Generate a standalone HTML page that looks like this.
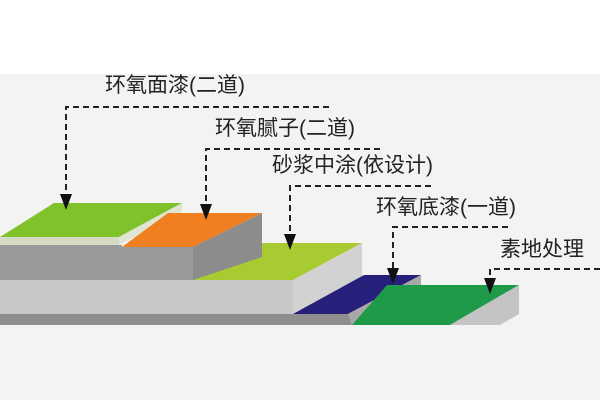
<!DOCTYPE html>
<html><head><meta charset="utf-8"><style>
html,body{margin:0;padding:0;background:#fff;}
svg{display:block;}
text{font-family:"Liberation Sans","Noto Sans CJK SC",sans-serif;font-size:21px;fill:#222;}
</style></head><body>
<svg width="600" height="400" viewBox="0 0 600 400" xmlns="http://www.w3.org/2000/svg">
<rect x="0" y="0" width="600" height="400" fill="#f3f3f3"/>
<rect x="0" y="0" width="600" height="74" fill="#ffffff"/>
<polygon points="0,237 54,203 182,203 119,237" fill="#7fc22c"/>
<polygon points="0,237 119,237 119,245 0,245" fill="#d6dbc6"/>
<polygon points="119,237 182,203 182,212 119,245" fill="#e0e4d2"/>
<polygon points="122,247 168,213 262,213 193,247" fill="#ef7f20"/>
<polygon points="0,245 122,245 122,247 193,247 193,280 0,280" fill="#9a9a9a"/>
<polygon points="193,280 255,243 362,243 293,280" fill="#a9cb32"/>
<polygon points="193,247 262,213 262,257 193,280" fill="#8c8c8c"/>
<polygon points="0,280 293,280 293,314 0,314" fill="#c8c8c8"/>
<polygon points="293,280 362,243 362,287 293,314" fill="#d2d2d2"/>
<polygon points="0,314 352,314 352,325 0,325" fill="#8e8e8e"/>
<polygon points="293,314 364,275 421,275 348,314" fill="#27207a"/>
<polygon points="348,314 421,275 421,285 352,325" fill="#a8a8a8"/>
<polygon points="352,325 387,285 519,285 450,325" fill="#1f9a48"/>
<polygon points="450,325 519,285 519,314 500,325" fill="#c4c4c4"/>
<g stroke="#222" stroke-width="2" stroke-dasharray="6,4" fill="none">
<polyline points="329,107 66,107 66,196"/>
<polyline points="380,149 206,149 206,206"/>
<polyline points="431,186 290,186 290,236"/>
<polyline points="508,227 393,227 393,270"/>
<polyline points="600,269 490,269 490,280"/>
</g>
<g fill="#111">
<polygon points="60,194 72,194 66,210"/>
<polygon points="200,204 212,204 206,220"/>
<polygon points="284,234 296,234 290,250"/>
<polygon points="387,268 399,268 393,284"/>
<polygon points="484,278 496,278 490,294"/>
</g>
<text x="105" y="92">环氧面漆(二道)</text>
<text x="215" y="135">环氧腻子(二道)</text>
<text x="272" y="172">砂浆中涂(依设计)</text>
<text x="376" y="214">环氧底漆(一道)</text>
<text x="500" y="256">素地处理</text>
</svg>
</body></html>
